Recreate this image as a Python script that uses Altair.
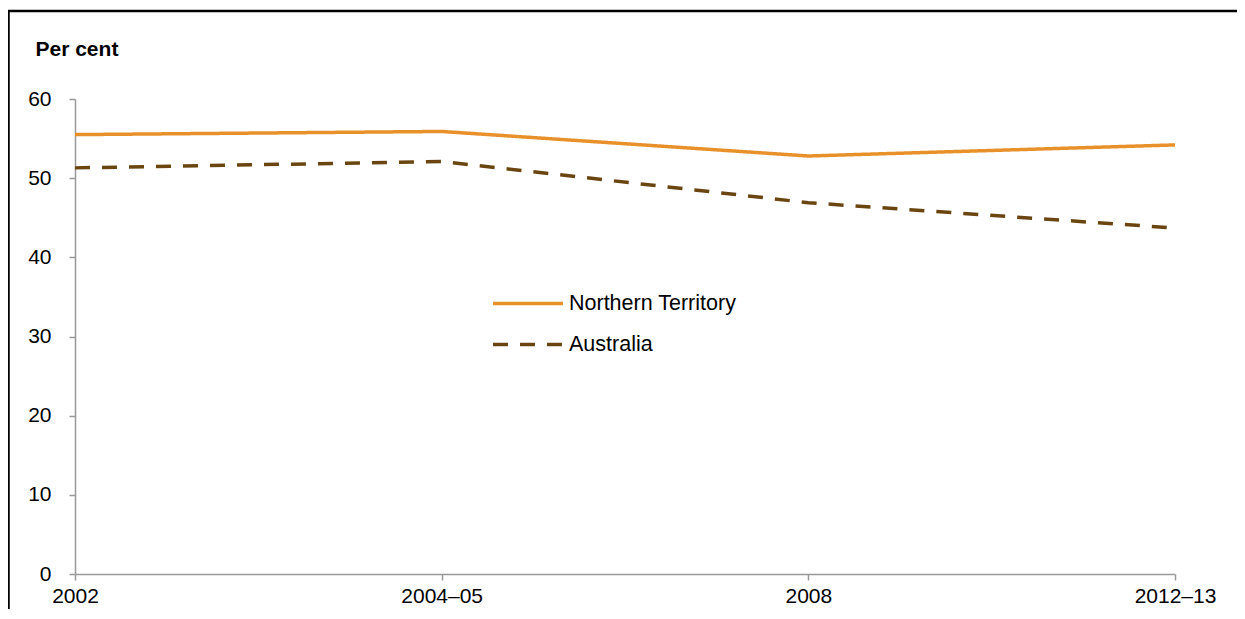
import altair as alt
import pandas as pd

periods = ["2002", "2004–05", "2008", "2012–13"]
series_names = ["Northern Territory", "Australia"]
nt_values = [55.5, 55.9, 52.8, 54.2]
aus_values = [51.3, 52.1, 46.9, 43.7]
colors = ["#E8912B", "#6B4510"]

rows = []
for p, v in zip(periods, nt_values):
    rows.append({"period": p, "series": series_names[0], "value": v})
for p, v in zip(periods, aus_values):
    rows.append({"period": p, "series": series_names[1], "value": v})
df = pd.DataFrame(rows)

FONT = "Liberation Sans"

lines = alt.Chart(df).mark_line(strokeWidth=3.5, strokeCap="butt").encode(
    x=alt.X(
        "period:N",
        sort=periods,
        scale=alt.Scale(type="point", padding=0),
        axis=alt.Axis(
            title=None, labelAngle=0, domainColor="#999999", domainWidth=1.5,
            tickColor="#999999", tickWidth=1.5, tickSize=6, labelPadding=5,
            labelFont=FONT, labelFontSize=21, labelColor="black", grid=False,
        ),
    ),
    y=alt.Y(
        "value:Q",
        scale=alt.Scale(domain=[0, 60], nice=False, zero=True),
        axis=alt.Axis(
            values=[0, 10, 20, 30, 40, 50, 60], title="Per cent", titleAngle=0,
            titleX=-40, titleY=-44, titleAlign="left", titleBaseline="alphabetic",
            titleFont=FONT, titleFontSize=21, titleFontWeight="bold", titleColor="black",
            domainColor="#999999", domainWidth=1.5, tickColor="#999999", tickWidth=1.5,
            tickSize=6, labelPadding=18, labelFont=FONT, labelFontSize=21,
            labelColor="black", grid=False,
        ),
    ),
    color=alt.Color(
        "series:N",
        sort=series_names,
        scale=alt.Scale(domain=series_names, range=colors),
        legend=alt.Legend(title=None),
    ),
    strokeDash=alt.StrokeDash(
        "series:N",
        sort=series_names,
        scale=alt.Scale(domain=series_names, range=[[1, 0], [15, 12]]),
        legend=alt.Legend(title=None),
    ),
    order=alt.Order("series:N"),
)

frame = alt.Chart(alt.Data(values=[{"a": 1}])).mark_rect(
    filled=False, stroke="black", strokeWidth=2.5
).encode(
    x=alt.value(-66.5), x2=alt.value(1300), y=alt.value(-88), y2=alt.value(800)
)

chart = alt.layer(lines, frame).properties(
    width=1100,
    height=475,
    padding={"left": 67, "top": 91, "right": 62, "bottom": 35},
    autosize=alt.AutoSizeParams(type="none"),
).configure_view(stroke=None).configure_legend(
    orient="none", legendX=416, legendY=185, symbolType="stroke",
    symbolSize=4900, symbolStrokeWidth=3.5, labelFont=FONT, labelFontSize=21.5,
    labelColor="black", labelOffset=4, labelLimit=0, clipHeight=39, rowPadding=2,
)

chart.save("out.html", embed_options={"renderer": "svg", "actions": False})
